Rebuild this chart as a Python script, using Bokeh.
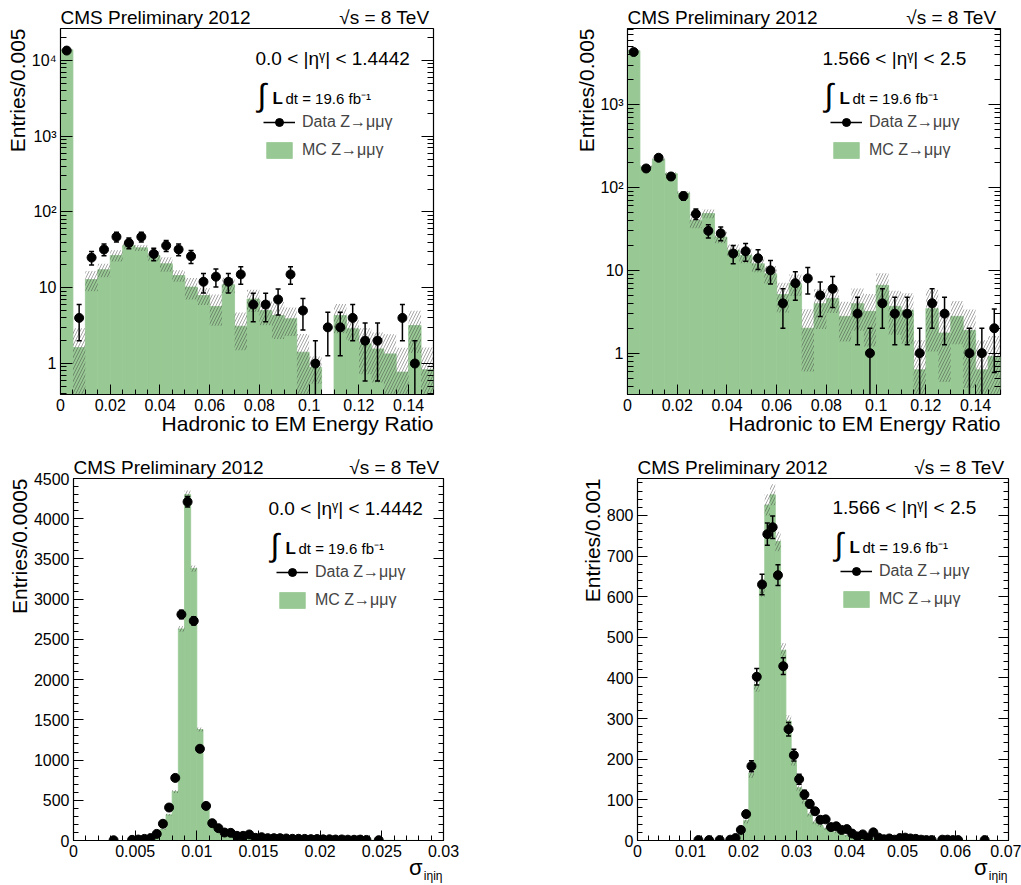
import numpy as np
from bokeh.plotting import figure
from bokeh.models import (FixedTicker, Label, Legend, LegendItem, LinearAxis, LogAxis,
                          Range1d, Title)
from bokeh.layouts import column, row
from bokeh.embed import file_html
from bokeh.resources import INLINE

FONT = "Liberation Sans"
GREEN = "#98c994"

# ---------------- data: H/E, barrel (0.0 < |eta| < 1.4442) ----------------
hoe_bin_width = 0.005
hoe_eb_data = [13500, 4, 25, 32, 47, 39, 47, 28, 36, 32, 26, 12, 14, 12, 15,
               6, 6, 7, 15, 5, 1, 3, 3, 4, 2, 2, 0, 4, 1, 0]
hoe_eb_mc = [13800, 1.63, 12.8, 17.3, 26.7, 36, 33.6, 26.7, 20.7, 14.5, 10.2, 7.9, 5.65, 11.0, 3.1,
             7.1, 5.0, 4.3, 3.9, 1.41, 0.89, 0, 4.3, 2.87, 1.82, 1.56, 1.34, 0.77, 3.18, 0.83]
hoe_eb_mc_err = [300, 1.3, 3.8, 3.5, 4.5, 3.0, 3.0, 4.0, 4.5, 2.5, 3.2, 2.0, 2.5, 2.5, 1.6,
                 2.3, 1.8, 2.2, 1.6, 1.05, 0.35, 0, 1.8, 0.85, 1.1, 1.0, 1.1, 0.85, 1.8, 0.8]

# ---------------- data: H/E, endcap (1.566 < |eta| < 2.5) ----------------
hoe_ee_data = [4330, 170, 229, 136, 79, 48, 30, 28, 16, 17, 14, 10, 4, 7, 8,
               5, 6, 0, 3, 1, 4, 3, 3, 1, 4, 3, 0, 1, 1, 2]
hoe_ee_mc = [4500, 178, 218, 147, 86, 40.3, 48.5, 25.3, 17.5, 15.2, 12.0, 9.1, 5.1, 6.9, 2.0,
             3.96, 4.56, 2.78, 3.96, 3.2, 6.6, 3.67, 3.3, 0.63, 3.45, 1.75, 2.78, 1.88, 0.63, 0.91]
hoe_ee_mc_err = [60, 8, 8, 6, 5, 8, 6, 4, 3, 3, 2.5, 2.2, 2.0, 2.0, 1.4,
                 2.0, 1.5, 1.4, 2.1, 2.0, 2.6, 2.0, 2.0, 0.8, 2.4, 1.3, 1.5, 1.5, 0.8, 0.7]

# ---------------- data: sigma_ietaieta, barrel ----------------
sieie_eb_bin_width = 0.0005
sieie_eb_data = [0, 0, 0, 0, 0, 0, 3, 0, 0, 8,
                 12, 20, 30, 82, 208, 410, 778, 2810, 4210, 2730,
                 1140, 430, 215, 153, 99, 95, 58, 58, 75, 33,
                 41, 29, 29, 29, 25, 21, 21, 20, 17, 18,
                 14, 15, 12, 13, 10, 9, 11, 7, 0, 4,
                 0, 0, 0, 0, 0, 0, 0, 0, 0, 0]
sieie_eb_mc = [0, 0, 0, 0, 0, 0, 0, 0, 0, 0,
               2, 5, 12, 45, 140, 320, 610, 2630, 4300, 3380,
               1380, 455, 210, 145, 100, 80, 62, 50, 42, 36,
               30, 26, 22, 20, 17, 15, 13, 12, 11, 10,
               9, 8, 7, 6, 6, 5, 5, 4, 4, 3,
               3, 2, 2, 1, 1, 1, 0, 0, 0, 0]
sieie_eb_mc_err = [0, 0, 0, 0, 0, 0, 0, 0, 0, 0,
                   1, 2, 3, 5, 8, 12, 18, 35, 50, 40,
                   25, 12, 8, 7, 6, 5, 4, 4, 4, 3,
                   3, 3, 3, 2, 2, 2, 2, 2, 2, 2,
                   2, 1, 1, 1, 1, 1, 1, 1, 1, 1,
                   1, 1, 1, 1, 1, 1, 0, 0, 0, 0]

# ---------------- data: sigma_ietaieta, endcap ----------------
sieie_ee_bin_width = 0.001
sieie_ee_data = [0, 0, 0, 0, 0, 0, 0, 0, 0, 0,
                 0, 1, 0, 1, 0, 1, 0, 2, 6, 26,
                 65, 183, 403, 630, 754, 771, 653, 429, 274, 210,
                 151, 113, 90, 72, 51, 52, 33, 35, 26, 28,
                 17, 10, 15, 7, 20, 7, 3, 5, 2, 6,
                 7, 5, 4, 2, 1, 1, 0, 2, 2, 1,
                 1, 0, 0, 0, 0, 1, 0, 0, 0, 0]
sieie_ee_mc = [0, 0, 0, 0, 0, 0, 0, 0, 0, 0,
               0, 0, 0, 0, 0, 0.5, 1, 2, 5, 16,
               49, 166, 384, 622, 826, 851, 736, 468, 294, 195,
               130, 98, 65, 45, 38, 30, 25, 21, 17, 12,
               9, 7, 6, 5, 4, 4, 3, 3, 2, 2,
               2, 2, 1.5, 1.5, 1, 1, 1, 1, 1, 0.8,
               0.8, 0.5, 0.5, 0.5, 0.3, 0.3, 0.3, 0.2, 0.2, 0.2]
sieie_ee_mc_err = [0, 0, 0, 0, 0, 0, 0, 0, 0, 0,
                   0, 0, 0, 0, 0, 0.5, 0.5, 0.5, 2, 4,
                   7, 12, 18, 22, 26, 26, 24, 18, 14, 11,
                   9, 8, 6, 5, 5, 4, 4, 3, 3, 3,
                   2, 2, 2, 2, 1.5, 1.5, 1.5, 1.5, 1, 1,
                   1, 1, 1, 1, 1, 1, 1, 1, 1, 0.5,
                   0.5, 0.5, 0.5, 0.5, 0.5, 0.5, 0.5, 0.5, 0.5, 0.5]

# ---------------- ticks / labels ----------------
hoe_xticks = [0, 0.02, 0.04, 0.06, 0.08, 0.1, 0.12, 0.14]
hoe_xtick_labels = ["0", "0.02", "0.04", "0.06", "0.08", "0.1", "0.12", "0.14"]
log_yticks = [1, 10, 100, 1000, 10000]
log_ytick_labels = ["1", "10", "10²", "10³", "10⁴"]
sieie_eb_xticks = [0, 0.005, 0.01, 0.015, 0.02, 0.025, 0.03]
sieie_eb_xtick_labels = ["0", "0.005", "0.01", "0.015", "0.02", "0.025", "0.03"]
sieie_eb_yticks = [0, 500, 1000, 1500, 2000, 2500, 3000, 3500, 4000, 4500]
sieie_ee_xticks = [0, 0.01, 0.02, 0.03, 0.04, 0.05, 0.06, 0.07]
sieie_ee_xtick_labels = ["0", "0.01", "0.02", "0.03", "0.04", "0.05", "0.06", "0.07"]
sieie_ee_yticks = [0, 100, 200, 300, 400, 500, 600, 700, 800]

cms_text = "CMS Preliminary 2012"
energy_text = "√s = 8 TeV"
eta_eb_text = "0.0 < |ηᵞ| < 1.4442"
eta_ee_text = "1.566 < |ηᵞ| < 2.5"
data_label = "Data Z→μμγ"
mc_label = "MC Z→μμγ"
hoe_xlabel = "Hadronic to EM Energy Ratio"

# approximate text widths (em units, Arial/Liberation metrics) for header placement
CMS_EM = 10.0
ENERGY_EM = 4.86
HEAD_PX = 19


def style_axis(ax, ticks, labels, minor, major_len, minor_len, font_size="16px", standoff=4):
    ax.ticker = FixedTicker(ticks=ticks, minor_ticks=minor)
    if labels is not None:
        ax.major_label_overrides = {t: l for t, l in zip(ticks, labels)}
    ax.major_tick_in = major_len
    ax.major_tick_out = 0
    ax.minor_tick_in = minor_len
    ax.minor_tick_out = 0
    ax.major_tick_line_color = "black"
    ax.minor_tick_line_color = "black"
    ax.axis_line_color = "black"
    ax.major_label_text_font = FONT
    ax.major_label_text_font_size = font_size
    ax.major_label_text_color = "black"
    ax.major_label_standoff = standoff


def side_title(text, size, align, standoff, offset=0, valign="bottom"):
    return Title(text=text, align=align, vertical_align=valign, standoff=standoff, offset=offset,
                 text_font=FONT, text_font_size=size, text_font_style="normal",
                 text_color="black")


def make_panel(fig_w, fig_h, borders, x_end, y_start, y_end, log, bin_w,
               data, mc, mc_err, xticks, xlabels, xminor_step, yticks, ylabels, yminor,
               ymajor_len, yminor_len, ylabel, xlabel, eta_text):
    bl, br, bt, bb = borders
    fw = fig_w - bl - br
    fh = fig_h - bt - bb
    p = figure(width=fig_w, height=fig_h, x_range=Range1d(0, x_end),
               y_range=Range1d(y_start, y_end),
               y_axis_type="log" if log else "linear",
               output_backend="svg", toolbar_location=None,
               min_border_left=bl, min_border_right=br, min_border_top=bt, min_border_bottom=bb)
    p.grid.visible = False
    p.outline_line_color = "black"
    p.outline_line_width = 1.2
    p.background_fill_color = "white"
    p.border_fill_color = "white"
    base = y_start if log else 0.0

    mc_a = np.array(mc, dtype=float)
    err_a = np.array(mc_err, dtype=float)
    dat_a = np.array(data, dtype=float)
    n = len(mc_a)
    lefts = np.arange(n) * bin_w
    rights = lefts + bin_w
    centers = lefts + bin_w / 2

    m = mc_a > 0
    mc_r = p.quad(left=lefts[m], right=rights[m], bottom=base, top=mc_a[m],
                  fill_color=GREEN, line_color=GREEN, line_width=0.8)
    lo = np.maximum(mc_a[m] - err_a[m], base)
    hi = mc_a[m] + err_a[m]
    p.quad(left=lefts[m], right=rights[m], bottom=lo, top=hi,
           fill_color=None, line_color=None, hatch_pattern="/",
           hatch_color="#3a3a3a", hatch_alpha=0.45, hatch_scale=6, hatch_weight=1)

    d = dat_a > 0
    xd = centers[d]
    yd = dat_a[d]
    ed = np.sqrt(yd)
    ylo = np.maximum(yd - ed, base)
    yhi = yd + ed
    seg_r = p.segment(x0=xd, y0=ylo, x1=xd, y1=yhi, line_color="black", line_width=1.5)
    p.scatter(x=xd, y=yhi, marker="dash", size=5, line_color="black", line_width=1.5)
    cap = ylo > base
    p.scatter(x=xd[cap], y=ylo[cap], marker="dash", size=5, line_color="black", line_width=1.5)
    pts_r = p.scatter(x=xd, y=yd, marker="circle", size=9, fill_color="black", line_color="black")

    xminor = list(np.arange(0, x_end + xminor_step / 2, xminor_step))
    style_axis(p.xaxis[0], xticks, xlabels, xminor, 10, 5)
    style_axis(p.yaxis[0], yticks, ylabels, yminor, ymajor_len, yminor_len)

    # mirrored ticks on the right
    ra = LogAxis() if log else LinearAxis()
    style_axis(ra, yticks, ["" for _ in yticks], yminor, ymajor_len, yminor_len,
               font_size="0px", standoff=0)
    ra.axis_line_color = None
    p.add_layout(ra, "right")

    # header texts above the frame, carried by a tick-less top axis
    cms_pos = (CMS_EM * HEAD_PX / 2) / fw * x_end
    en_pos = (fw - 3 - ENERGY_EM * HEAD_PX / 2) / fw * x_end
    ta = LinearAxis()
    style_axis(ta, [cms_pos, en_pos], [cms_text, energy_text], [], 0, 0,
               font_size="%dpx" % HEAD_PX, standoff=1)
    ta.axis_line_color = None
    p.add_layout(ta, "above")

    # axis titles
    p.add_layout(side_title(ylabel, "21px", "right", 0), "left")
    if xlabel is not None:
        p.add_layout(side_title(xlabel, "21px", "right", -4, valign="top"), "below")
    else:
        p.add_layout(side_title("σ", "22px", "right", -10, offset=21, valign="top"), "below")
        p.add_layout(side_title("iηiη", "12px", "right", -16, offset=1, valign="top"), "below")

    def lab(x, y, text, size, align="left", baseline="alphabetic", **kw):
        p.add_layout(Label(x=x, y=y, x_units="screen", y_units="screen", text=text,
                           text_font=FONT, text_font_size=size, text_align=align,
                           text_baseline=baseline, text_color="black", **kw))

    lab(195, fh - 30, eta_text, "19px", baseline="middle")
    lab(197, fh - 66, "∫", "32px", baseline="middle")
    lab(212, fh - 70, "L", "17px", text_font_style="bold")
    lab(225, fh - 70, "dt = 19.6 fb⁻¹", "15px")

    legend = Legend(items=[LegendItem(label=data_label, renderers=[seg_r, pts_r]),
                           LegendItem(label=mc_label, renderers=[mc_r])],
                    location=(203, fh - 132), orientation="vertical",
                    glyph_width=32, glyph_height=20, label_height=20, spacing=8,
                    label_standoff=7, padding=0, margin=0,
                    border_line_color=None, background_fill_alpha=0,
                    label_text_font=FONT, label_text_font_size="16px",
                    label_text_baseline="middle")
    p.add_layout(legend)
    return p


def log_minor(lo_exp, hi_exp):
    return [k * 10.0 ** e for e in range(lo_exp, hi_exp + 1) for k in range(2, 10)]


p1 = make_panel(510, 440, (60, 77, 28, 46), 0.15, 0.39, 26400, True, hoe_bin_width,
                hoe_eb_data, hoe_eb_mc, hoe_eb_mc_err,
                hoe_xticks, hoe_xtick_labels, 0.005,
                log_yticks, log_ytick_labels, log_minor(-1, 4), 12, 6,
                "Entries/0.005", hoe_xlabel, eta_eb_text)
p2 = make_panel(511, 440, (117, 21, 28, 46), 0.15, 0.317, 8330, True, hoe_bin_width,
                hoe_ee_data, hoe_ee_mc, hoe_ee_mc_err,
                hoe_xticks, hoe_xtick_labels, 0.005,
                log_yticks, log_ytick_labels, log_minor(-1, 3), 12, 6,
                "Entries/0.005", hoe_xlabel, eta_ee_text)
p3 = make_panel(510, 445, (73, 67, 38, 45), 0.03, 0, 4500, False, sieie_eb_bin_width,
                sieie_eb_data, sieie_eb_mc, sieie_eb_mc_err,
                sieie_eb_xticks, sieie_eb_xtick_labels, 0.001,
                sieie_eb_yticks, None, list(range(0, 4600, 100)), 10, 5,
                "Entries/0.0005", None, eta_eb_text)
p4 = make_panel(511, 445, (127, 13, 37, 45), 0.07, 0, 891, False, sieie_ee_bin_width,
                sieie_ee_data, sieie_ee_mc, sieie_ee_mc_err,
                sieie_ee_xticks, sieie_ee_xtick_labels, 0.002,
                sieie_ee_yticks, None, list(range(0, 900, 20)), 10, 5,
                "Entries/0.001", None, eta_ee_text)

layout = column(row(p1, p2, spacing=0), row(p3, p4, spacing=0), spacing=0)
open("out.html", "w").write(file_html(layout, INLINE))
